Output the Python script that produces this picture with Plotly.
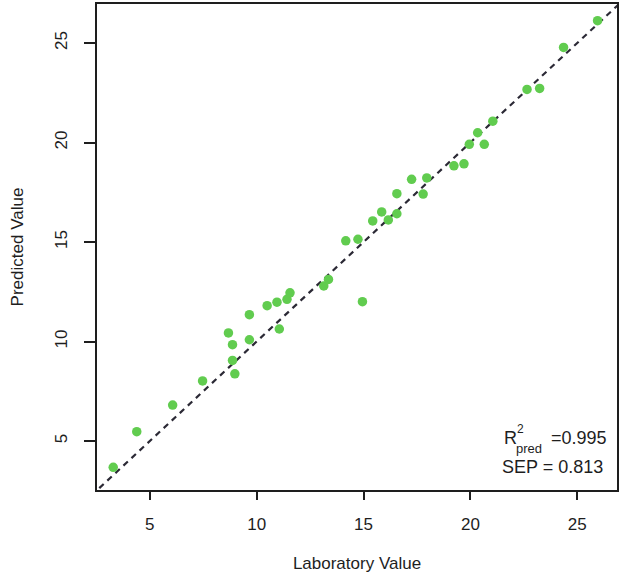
import plotly.graph_objects as go

# Laboratory reference values and model predictions
laboratory = [3.29, 4.39, 6.07, 7.47, 8.68, 8.87, 8.87, 8.98, 9.66, 9.66,
              10.49, 10.95, 11.06, 11.42, 11.56, 13.14, 13.36, 14.17, 14.74, 14.95,
              15.43, 15.85, 16.16, 16.56, 16.56, 17.79, 17.25, 17.96, 19.23, 19.70,
              19.95, 20.65, 20.34, 21.05, 22.65, 23.24, 24.36, 25.95]
predicted = [3.68, 5.47, 6.81, 8.02, 10.43, 9.84, 9.05, 8.38, 11.35, 10.09,
             11.80, 11.98, 10.63, 12.12, 12.45, 12.79, 13.12, 15.06, 15.14, 12.00,
             16.06, 16.51, 16.11, 16.42, 17.43, 17.41, 18.15, 18.22, 18.83, 18.93,
             19.91, 19.91, 20.49, 21.07, 22.67, 22.72, 24.78, 26.12]

tick_values = [5, 10, 15, 20, 25]
x_range = [2.53, 26.86]
y_range = [2.54, 26.96]
identity_line = [0, 30]

r2_pred = "0.995"
sep = "0.813"

FONT = "Liberation Sans, Arial, Helvetica, sans-serif"
INK = "#1e1e1e"

fig = go.Figure()

# 1:1 reference line
fig.add_trace(go.Scatter(
    x=identity_line, y=identity_line, mode="lines",
    line=dict(color="#2b2935", width=2.2, dash="6px,5px"),
    hoverinfo="skip", showlegend=False,
))

fig.add_trace(go.Scatter(
    x=laboratory, y=predicted, mode="markers",
    marker=dict(color="#61CC4F", size=9.5, line=dict(width=0)),
    showlegend=False,
))

axis_common = dict(
    showgrid=False, zeroline=False,
    showline=True, linecolor=INK, linewidth=2, mirror=True,
    ticks="outside", tickcolor=INK, tickwidth=1.5,
    tickvals=tick_values,
    tickfont=dict(family=FONT, size=17, color=INK),
)

fig.update_xaxes(
    range=x_range, ticklen=8, ticklabelstandoff=10,
    title=dict(text="Laboratory Value", font=dict(family=FONT, size=17, color=INK), standoff=24),
    **axis_common,
)
fig.update_yaxes(
    range=y_range, ticklen=11, tickangle=-90, ticklabelstandoff=10,
    title=dict(text="Predicted Value", font=dict(family=FONT, size=17, color=INK), standoff=24),
    **axis_common,
)

# Statistics block: R with stacked superscript "2" and subscript "pred"
ann_font = dict(family=FONT, size=18, color=INK)
fig.add_annotation(xref="paper", yref="paper", x=0.7797, y=0.106, xanchor="left", yanchor="middle",
                   text="R", showarrow=False, font=ann_font)
fig.add_annotation(xref="paper", yref="paper", x=0.8150, y=0.1245, xanchor="center", yanchor="middle",
                   text="2", showarrow=False, font=dict(family=FONT, size=12, color=INK))
fig.add_annotation(xref="paper", yref="paper", x=0.8315, y=0.0844, xanchor="center", yanchor="middle",
                   text="pred", showarrow=False, font=dict(family=FONT, size=13, color=INK))
fig.add_annotation(xref="paper", yref="paper", x=0.9847, y=0.106, xanchor="right", yanchor="middle",
                   text="=" + r2_pred, showarrow=False, font=ann_font)
fig.add_annotation(xref="paper", yref="paper", x=0.977, y=0.0463, xanchor="right", yanchor="middle",
                   text="SEP = " + sep, showarrow=False, font=ann_font)

fig.update_layout(
    width=620, height=577,
    margin=dict(l=97, r=1, t=4, b=87),
    paper_bgcolor="white", plot_bgcolor="white",
    font=dict(family=FONT, color=INK),
)

fig.write_html("out.html")
